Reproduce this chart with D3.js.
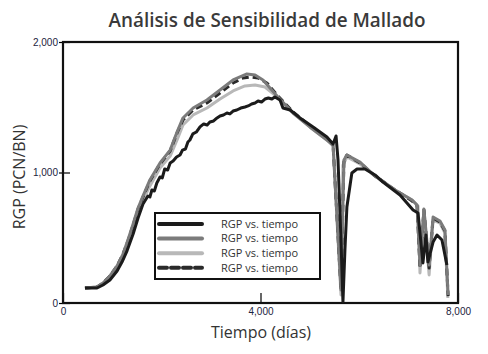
<!DOCTYPE html>
<html>
<head>
<meta charset="utf-8">
<script src="https://cdn.jsdelivr.net/npm/d3@7"></script>
<style>
  body { margin: 0; background: #fff; }
  svg { display: block; font-family: "Open Sans", "DejaVu Sans", sans-serif; }
</style>
</head>
<body>
<svg id="chart" width="488" height="354"></svg>
<script>
// RGP vs. tiempo, 4 mesh sizes: [days, RGP]
const serieNegra = [
  [445,115],[690,115],[810,138],[950,176],[1095,245],[1195,314],[1295,398],[1420,529],
  [1520,651],[1620,759],[1720,820],[1760,812],[1800,866],[1850,858],[1900,920],[1965,966],
  [2010,958],[2060,1027],[2120,1019],[2170,1073],[2230,1088],[2300,1119],[2370,1134],
  [2420,1172],[2480,1180],[2530,1234],[2570,1249],[2630,1296],[2700,1310],[2775,1349],
  [2850,1372],[2920,1364],[2975,1387],[3050,1395],[3120,1418],[3180,1433],[3250,1441],
  [3320,1456],[3380,1449],[3445,1471],[3520,1479],[3600,1494],[3685,1502],[3750,1510],
  [3820,1525],[3890,1533],[3950,1548],[4020,1540],[4090,1563],[4160,1571],[4230,1563],
  [4290,1579],[4395,1556],[4455,1494],[4600,1479],[4800,1418],[5065,1349],[5345,1272],
  [5470,1218],[5530,1280],[5570,1096],[5630,483],[5670,8],[5710,406],[5750,736],
  [5850,996],[5955,1027],[6115,1027],[6320,981],[6480,927],[6825,828],[7090,713],
  [7190,690],[7290,307],[7350,521],[7390,314],[7495,467],[7575,521],[7675,483],[7775,291]
];
const serieGrisOscuro = [
  [445,115],[690,123],[810,153],[950,207],[1095,284],[1215,375],[1315,483],[1420,605],
  [1520,728],[1620,820],[1760,943],[1965,1073],[2170,1172],[2310,1310],[2430,1418],
  [2635,1494],[2915,1556],[3180,1632],[3445,1709],[3725,1755],[3890,1747],[4050,1709],
  [4335,1586],[4660,1456],[5000,1349],[5345,1249],[5470,1211],[5630,100],[5690,1096],
  [5750,1134],[6015,1080],[6320,973],[6725,866],[7070,789],[7170,751],[7230,291],
  [7310,720],[7415,291],[7495,659],[7635,628],[7735,559],[7800,61]
];
const serieGrisClaro = [
  [445,115],[690,123],[810,146],[950,199],[1095,268],[1215,352],[1315,460],[1420,575],
  [1520,697],[1620,789],[1760,897],[1965,1034],[2170,1126],[2310,1249],[2430,1364],
  [2635,1441],[2915,1494],[3180,1563],[3445,1625],[3685,1663],[3890,1671],[4090,1655],
  [4335,1579],[4660,1456],[5000,1349],[5345,1249],[5470,1203],[5630,61],[5670,1057],
  [5750,1119],[6015,1065],[6320,973],[6725,866],[7070,789],[7190,743],[7230,230],
  [7310,713],[7415,215],[7495,636],[7635,613],[7735,536],[7795,38]
];
const serieDiscontinua = [
  [445,115],[690,123],[810,153],[950,207],[1095,284],[1215,375],[1315,475],[1420,598],
  [1520,720],[1620,812],[1760,935],[1965,1065],[2170,1165],[2310,1303],[2430,1402],
  [2635,1479],[2915,1533],[3180,1609],[3445,1686],[3645,1724],[3785,1732],[3950,1724],
  [4130,1686],[4335,1594],[4660,1464],[5000,1356],[5345,1257],[5470,1211],[5630,100],
  [5690,1096],[5750,1134],[6015,1073],[6320,973],[6725,866],[7070,782],[7170,743],
  [7230,268],[7310,713],[7415,268],[7495,651],[7635,620],[7735,552],[7800,53]
];
const etiquetasLeyenda = ["RGP vs. tiempo", "RGP vs. tiempo", "RGP vs. tiempo", "RGP vs. tiempo"];
const ticksX = [0, 4000, 8000];
const ticksY = [0, 1000, 2000];

const margin = {left: 63, right: 30, top: 42, bottom: 51};
const W = 488, H = 354;
const svg = d3.select("#chart");

let x = d3.scaleLinear().domain([0, 8000]).range([margin.left, W - margin.right]);
let y = d3.scaleLinear().domain([0, 2000]).range([H - margin.bottom, margin.top]);
let fmt = d3.format(",");

// title
svg.append("text")
  .attr("x", 267).attr("y", 27)
  .attr("text-anchor", "middle")
  .attr("textLength", 317).attr("lengthAdjust", "spacingAndGlyphs")
  .style("font-size", "19px").style("font-weight", 600).style("fill", "#3a3a3a")
  .text("Análisis de Sensibilidad de Mallado");

// axes
let gx = svg.append("g")
  .attr("transform", "translate(0," + y(0) + ")")
  .call(d3.axisBottom(x).tickValues(ticksX).tickFormat(fmt).tickSize(0));
gx.select(".domain").remove();
gx.selectAll("text").attr("dy", "0.95em").attr("y", 2)
  .style("font-size", "10px").style("fill", "#1c2340");
gx.selectAll(".tick").append("line").attr("y1", 0).attr("y2", -10).attr("stroke", "#000").attr("stroke-width", 1.2);

let gy = svg.append("g")
  .attr("transform", "translate(" + x(0) + ",0)")
  .call(d3.axisLeft(y).tickValues(ticksY).tickFormat(fmt).tickSize(0));
gy.select(".domain").remove();
gy.selectAll("text").attr("x", -5)
  .style("font-size", "10px").style("fill", "#1c2340");
gy.selectAll(".tick").append("line").attr("x1", -4).attr("x2", 7).attr("stroke", "#000").attr("stroke-width", 1.2);

// frame
svg.append("rect")
  .attr("x", x(0)).attr("y", y(2000))
  .attr("width", x(8000) - x(0)).attr("height", y(0) - y(2000))
  .attr("fill", "none").attr("stroke", "#111").attr("stroke-width", 2.2);

// axis labels
svg.append("text")
  .attr("transform", "translate(25," + 177 + ") rotate(-90)")
  .attr("text-anchor", "middle")
  .style("font-size", "16px").style("fill", "#333")
  .text("RGP (PCN/BN)");
svg.append("text")
  .attr("x", 261).attr("y", 338)
  .attr("text-anchor", "middle")
  .style("font-size", "16px").style("fill", "#333")
  .text("Tiempo (días)");

// series
const estilos = [
  {data: serieNegra, color: "#1b1b1b", dash: null},
  {data: serieGrisOscuro, color: "#7b7b7b", dash: null},
  {data: serieGrisClaro, color: "#b8b8b8", dash: null},
  {data: serieDiscontinua, color: "#2a2a2a", dash: "7,4"}
];
let line = d3.line().x(d => x(d[0])).y(d => y(d[1]));
// drawing order: light gray, dashed, dark gray, black on top
[2, 3, 1, 0].forEach(i => {
  let s = estilos[i];
  svg.append("path")
    .datum(s.data)
    .attr("d", line)
    .attr("fill", "none")
    .attr("stroke", s.color)
    .attr("stroke-width", 3)
    .attr("stroke-linejoin", "round")
    .attr("stroke-dasharray", s.dash);
});

// legend
let lg = svg.append("g").attr("transform", "translate(155,213)");
lg.append("rect").attr("width", 165).attr("height", 66)
  .attr("fill", "#fff").attr("stroke", "#111").attr("stroke-width", 2);
estilos.forEach((s, i) => {
  let yy = 11 + i * 14.6;
  lg.append("line").attr("x1", 4).attr("x2", 47).attr("y1", yy).attr("y2", yy)
    .attr("stroke", s.color).attr("stroke-width", 4)
    .attr("stroke-linecap", "round")
    .attr("stroke-dasharray", s.dash ? "8,4" : null);
  lg.append("text").attr("x", 66).attr("y", yy).attr("dy", "0.35em")
    .style("font-size", "11px").style("fill", "#333")
    .text(etiquetasLeyenda[i]);
});
</script>
</body>
</html>
